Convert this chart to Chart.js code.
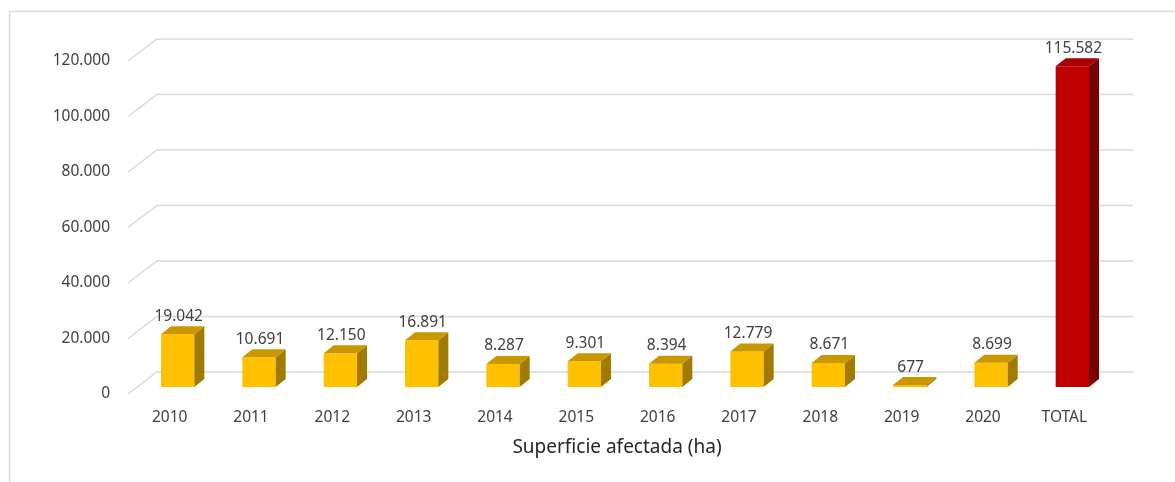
<!DOCTYPE html>
<html>
<head>
<meta charset="utf-8">
<script src="https://cdn.jsdelivr.net/npm/chart.js@4.4.1/dist/chart.umd.min.js"></script>
<style>
  html, body { margin: 0; padding: 0; background: #fff; }
  #wrap { width: 1175px; height: 482px; position: relative; }
</style>
</head>
<body>
<div id="wrap"><canvas id="chart"></canvas></div>
<script>
const categories = ["2010", "2011", "2012", "2013", "2014", "2015", "2016", "2017", "2018", "2019", "2020", "TOTAL"];
const superficie = [19042, 10691, 12150, 16891, 8287, 9301, 8394, 12779, 8671, 677, 8699, 115582];
const yTicks = [0, 20000, 40000, 60000, 80000, 100000, 120000];
const axisTitle = "Superficie afectada (ha)";

const FONT = "'Noto Sans', sans-serif";
const TEXT = "#404040";
const GRID = "#d9d9d9";
// 3D offsets, relative to the bar front plane
const depth = { dx: 10, dy: 8 };
const wall = { dx: 20, dy: 15 };
const floor = { dx: -9, dy: 7 };

function fmt(v) {
  return Number(v).toLocaleString("de-DE");
}

function faceColors(i) {
  if (categories[i] === "TOTAL") {
    return { front: "#c00000", top: "#a80000", side: "#7a0000" };
  }
  return { front: "#ffc000", top: "#c99800", side: "#a17a00" };
}

const frame = {
  id: "frame",
  beforeDraw(chart) {
    const ctx = chart.ctx;
    const { y, x } = chart.scales;
    const area = chart.chartArea;
    ctx.save();
    // outer box
    ctx.strokeStyle = GRID;
    ctx.lineWidth = 1.5;
    ctx.beginPath();
    ctx.moveTo(9.5, 490);
    ctx.lineTo(9.5, 11.5);
    ctx.lineTo(1180, 11.5);
    ctx.stroke();

    // back wall gridlines + floor diagonals
    ctx.strokeStyle = GRID;
    ctx.lineWidth = 1.5;
    yTicks.forEach(t => {
      const py = y.getPixelForValue(t);
      ctx.beginPath();
      ctx.moveTo(area.left + floor.dx, py + floor.dy);
      ctx.lineTo(area.left + wall.dx, py - wall.dy);
      ctx.lineTo(area.right + wall.dx, py - wall.dy);
      ctx.stroke();
    });

    // y tick labels on the front floor
    ctx.fillStyle = TEXT;
    ctx.font = "15.5px " + FONT;
    ctx.textAlign = "right";
    ctx.textBaseline = "middle";
    yTicks.forEach(t => {
      const py = y.getPixelForValue(t);
      ctx.fillText(fmt(t), 110, py + floor.dy);
    });

    // category labels
    ctx.textAlign = "center";
    categories.forEach((c, i) => {
      ctx.fillText(c, x.getPixelForTick(i) - 8, 418);
    });

    // axis title
    ctx.font = "19px " + FONT;
    ctx.fillStyle = "#262626";
    ctx.fillText(axisTitle, (area.left + area.right) / 2 - 8, 448);
    ctx.restore();
  }
};

const bars3d = {
  id: "bars3d",
  afterDatasetsDraw(chart) {
    const ctx = chart.ctx;
    const meta = chart.getDatasetMeta(0);
    ctx.save();
    meta.data.forEach((bar, i) => {
      const { x, y, base, width } = bar.getProps(["x", "y", "base", "width"], true);
      const l = x - width / 2, r = x + width / 2;
      const c = faceColors(i);
      // side
      ctx.fillStyle = c.side;
      ctx.beginPath();
      ctx.moveTo(r, y);
      ctx.lineTo(r + depth.dx, y - depth.dy);
      ctx.lineTo(r + depth.dx, base - depth.dy);
      ctx.lineTo(r, base);
      ctx.closePath();
      ctx.fill();
      // top
      ctx.fillStyle = c.top;
      ctx.beginPath();
      ctx.moveTo(l, y);
      ctx.lineTo(l + depth.dx, y - depth.dy);
      ctx.lineTo(r + depth.dx, y - depth.dy);
      ctx.lineTo(r, y);
      ctx.closePath();
      ctx.fill();

      // value label
      ctx.fillStyle = TEXT;
      ctx.font = "15.5px " + FONT;
      ctx.textAlign = "center";
      ctx.textBaseline = "middle";
      ctx.fillText(fmt(superficie[i]), x + 1, y - 18);
    });
    ctx.restore();
  }
};

new Chart(document.getElementById("chart"), {
  type: "bar",
  data: {
    labels: categories,
    datasets: [{
      data: superficie,
      backgroundColor: superficie.map((v, i) => faceColors(i).front),
      borderWidth: 0,
      barPercentage: 0.41,
      categoryPercentage: 1
    }]
  },
  options: {
    responsive: true,
    maintainAspectRatio: false,
    animation: false,
    layout: { padding: { left: 137, right: 62, top: 54, bottom: 95 } },
    plugins: {
      legend: { display: false },
      tooltip: { enabled: false }
    },
    scales: {
      x: { display: false, offset: true },
      y: { display: false, min: 0, max: 120000 }
    }
  },
  plugins: [frame, bars3d]
});
</script>
</body>
</html>
